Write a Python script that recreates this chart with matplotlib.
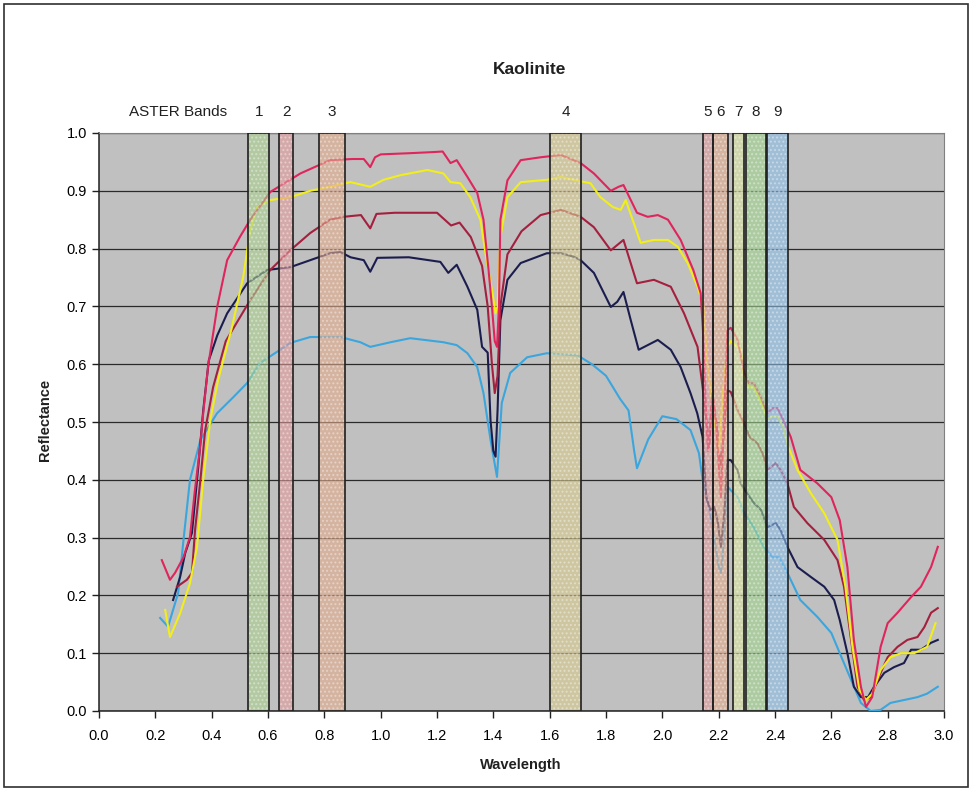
import matplotlib
matplotlib.use("Agg")
import matplotlib.pyplot as plt
from matplotlib.patches import Rectangle
from matplotlib.ticker import MultipleLocator, FormatStrFormatter

plt.rcParams['font.family'] = ['Liberation Sans', 'DejaVu Sans']

# ---------------- data ----------------
pink_x = [0.223,0.252,0.27,0.30,0.323,0.34,0.359,0.37,0.387,0.42,0.455,0.50,0.537,0.608,0.715,0.82,0.90,0.94,0.963,0.98,1.0,1.10,1.187,1.22,1.248,1.27,1.308,1.343,1.365,1.383,1.395,1.405,1.413,1.42,1.425,1.45,1.497,1.568,1.64,1.71,1.757,1.817,1.845,1.862,1.91,1.948,1.984,2.02,2.065,2.11,2.136,2.144,2.152,2.162,2.178,2.19,2.208,2.22,2.231,2.243,2.267,2.29,2.307,2.325,2.35,2.373,2.391,2.409,2.43,2.456,2.49,2.55,2.60,2.63,2.657,2.68,2.705,2.723,2.745,2.775,2.80,2.835,2.883,2.918,2.954,2.978]
pink_y = [0.261,0.227,0.239,0.266,0.301,0.38,0.457,0.515,0.595,0.70,0.78,0.82,0.85,0.898,0.93,0.953,0.955,0.955,0.941,0.958,0.963,0.965,0.967,0.968,0.948,0.953,0.924,0.896,0.85,0.763,0.70,0.64,0.63,0.70,0.85,0.918,0.953,0.958,0.962,0.948,0.93,0.90,0.907,0.91,0.862,0.855,0.858,0.85,0.815,0.763,0.723,0.66,0.55,0.45,0.55,0.50,0.37,0.52,0.659,0.663,0.642,0.587,0.567,0.567,0.543,0.515,0.524,0.524,0.503,0.474,0.417,0.394,0.37,0.33,0.249,0.123,0.042,0.007,0.024,0.111,0.152,0.17,0.197,0.215,0.249,0.284]

yellow_x = [0.235,0.252,0.288,0.323,0.348,0.37,0.395,0.423,0.47,0.512,0.537,0.562,0.608,0.68,0.75,0.82,0.893,0.963,1.01,1.07,1.166,1.223,1.248,1.283,1.318,1.354,1.372,1.397,1.408,1.415,1.425,1.45,1.497,1.59,1.64,1.685,1.745,1.78,1.824,1.852,1.87,1.923,1.97,2.02,2.055,2.09,2.125,2.147,2.16,2.18,2.20,2.215,2.231,2.243,2.278,2.29,2.307,2.325,2.35,2.373,2.391,2.409,2.43,2.445,2.48,2.527,2.575,2.622,2.65,2.675,2.70,2.723,2.745,2.775,2.81,2.847,2.894,2.94,2.97]
yellow_y = [0.175,0.128,0.169,0.221,0.284,0.40,0.503,0.573,0.66,0.751,0.832,0.872,0.884,0.889,0.90,0.907,0.915,0.907,0.919,0.927,0.936,0.93,0.915,0.913,0.889,0.85,0.792,0.723,0.688,0.70,0.82,0.889,0.915,0.919,0.924,0.919,0.913,0.889,0.872,0.867,0.884,0.81,0.815,0.815,0.803,0.775,0.734,0.699,0.60,0.52,0.446,0.55,0.63,0.64,0.625,0.58,0.56,0.56,0.535,0.505,0.51,0.51,0.49,0.46,0.417,0.377,0.342,0.296,0.215,0.111,0.036,0.019,0.03,0.071,0.093,0.10,0.10,0.111,0.152]

maroon_x = [0.277,0.312,0.33,0.341,0.36,0.377,0.405,0.45,0.537,0.608,0.679,0.75,0.82,0.868,0.93,0.963,0.985,1.05,1.2,1.25,1.28,1.32,1.36,1.38,1.395,1.405,1.415,1.425,1.45,1.50,1.568,1.64,1.71,1.757,1.817,1.862,1.91,1.97,2.03,2.077,2.125,2.143,2.166,2.178,2.196,2.208,2.231,2.243,2.267,2.29,2.31,2.338,2.356,2.373,2.403,2.42,2.444,2.467,2.515,2.575,2.622,2.645,2.67,2.693,2.716,2.74,2.775,2.80,2.835,2.87,2.906,2.93,2.954,2.978]
maroon_y = [0.215,0.227,0.239,0.313,0.40,0.486,0.56,0.64,0.711,0.763,0.797,0.827,0.85,0.855,0.858,0.835,0.86,0.862,0.862,0.84,0.845,0.82,0.77,0.70,0.60,0.55,0.58,0.70,0.79,0.83,0.858,0.867,0.855,0.837,0.797,0.815,0.74,0.746,0.734,0.688,0.63,0.56,0.457,0.547,0.481,0.422,0.555,0.552,0.521,0.498,0.474,0.463,0.446,0.417,0.429,0.417,0.394,0.353,0.325,0.296,0.261,0.215,0.123,0.042,0.019,0.024,0.066,0.093,0.111,0.123,0.128,0.145,0.17,0.178]

navy_x = [0.263,0.288,0.306,0.33,0.352,0.37,0.39,0.42,0.455,0.526,0.597,0.68,0.75,0.82,0.857,0.893,0.94,0.963,0.988,1.1,1.212,1.24,1.27,1.308,1.343,1.36,1.38,1.39,1.40,1.408,1.415,1.425,1.45,1.497,1.59,1.64,1.685,1.71,1.757,1.817,1.84,1.862,1.888,1.916,1.984,2.03,2.065,2.10,2.124,2.143,2.156,2.17,2.184,2.196,2.208,2.22,2.231,2.243,2.267,2.278,2.30,2.325,2.35,2.373,2.403,2.42,2.444,2.48,2.527,2.575,2.61,2.63,2.657,2.68,2.705,2.73,2.752,2.788,2.823,2.858,2.883,2.918,2.954,2.978]
navy_y = [0.192,0.232,0.273,0.308,0.42,0.52,0.607,0.65,0.688,0.74,0.763,0.768,0.78,0.792,0.794,0.785,0.78,0.76,0.784,0.785,0.777,0.758,0.772,0.734,0.694,0.63,0.62,0.503,0.45,0.44,0.52,0.676,0.746,0.775,0.792,0.792,0.786,0.78,0.758,0.699,0.708,0.725,0.676,0.625,0.642,0.625,0.595,0.55,0.515,0.474,0.37,0.348,0.353,0.33,0.284,0.342,0.434,0.434,0.417,0.394,0.377,0.36,0.348,0.318,0.325,0.313,0.284,0.249,0.232,0.215,0.192,0.157,0.10,0.042,0.024,0.024,0.042,0.066,0.076,0.083,0.106,0.106,0.118,0.123]

blue_x = [0.217,0.245,0.281,0.30,0.323,0.36,0.419,0.477,0.525,0.572,0.68,0.75,0.857,0.928,0.963,1.035,1.105,1.223,1.27,1.308,1.343,1.365,1.39,1.413,1.43,1.46,1.52,1.59,1.70,1.75,1.80,1.85,1.88,1.90,1.91,1.95,2.0,2.05,2.10,2.13,2.143,2.17,2.20,2.208,2.22,2.231,2.267,2.29,2.325,2.36,2.391,2.415,2.444,2.49,2.55,2.60,2.63,2.67,2.705,2.74,2.775,2.81,2.858,2.906,2.94,2.978]
blue_y = [0.161,0.146,0.204,0.296,0.40,0.469,0.515,0.543,0.567,0.602,0.637,0.647,0.647,0.638,0.63,0.638,0.645,0.638,0.633,0.619,0.595,0.55,0.469,0.405,0.533,0.585,0.612,0.619,0.615,0.60,0.58,0.54,0.52,0.45,0.42,0.47,0.51,0.505,0.486,0.446,0.40,0.342,0.25,0.239,0.30,0.388,0.37,0.342,0.318,0.284,0.266,0.266,0.239,0.192,0.163,0.135,0.10,0.054,0.014,0.0,0.002,0.014,0.019,0.024,0.03,0.042]

band_labels = ['1', '2', '3', '4', '5', '6', '7', '8', '9']
band_lo = [0.530, 0.640, 0.780, 1.600, 2.144, 2.180, 2.250, 2.297, 2.371]
band_hi = [0.604, 0.690, 0.875, 1.713, 2.180, 2.232, 2.290, 2.368, 2.446]
band_colors = ['#a9d08e', '#e39a9a', '#e3ab8c', '#d9cb8c', '#dd9a9a', '#e3ab8c',
               '#dce6a0', '#9fd48c', '#8cbde6']

x_ticks = [0.0, 0.2, 0.4, 0.6, 0.8, 1.0, 1.2, 1.4, 1.6, 1.8, 2.0, 2.2, 2.4, 2.6, 2.8, 3.0]
y_ticks = [0.0, 0.1, 0.2, 0.3, 0.4, 0.5, 0.6, 0.7, 0.8, 0.9, 1.0]

# ---------------- figure ----------------
fig = plt.figure(figsize=(9.74, 7.90), dpi=100)
fig.patch.set_facecolor('white')
ax = fig.add_axes([99/974, 1 - 711/790, (944 - 99)/974, (711 - 133)/790])
ax.set_facecolor('#c0c0c0')

# frame around whole chart
fig.patches.append(Rectangle((4/974, 3/790), 964/974, 783/790, transform=fig.transFigure,
                             fill=False, edgecolor='#303030', linewidth=1.2))

ax.set_xlim(0, 3.0)
ax.set_ylim(0, 1.0)
ax.set_xticks(x_ticks)
ax.set_yticks(y_ticks)
ax.xaxis.set_major_formatter(FormatStrFormatter('%.1f'))
ax.yaxis.set_major_formatter(FormatStrFormatter('%.1f'))
ax.tick_params(axis='both', labelsize=10.5, color='#202020', length=5, width=1, direction='out')
ax.tick_params(axis='x', pad=8)
ax.grid(axis='y', color='#2a2a2a', linewidth=0.9)
ax.set_axisbelow(True)
for s in ['top', 'right']:
    ax.spines[s].set_color('#808080')
for s in ['left', 'bottom']:
    ax.spines[s].set_color('#202020')
    ax.spines[s].set_linewidth(1.1)

lw = 1.5
ax.plot(blue_x, blue_y, color='#3aa6dd', lw=lw, zorder=3)
ax.plot(navy_x, navy_y, color='#1b1d4e', lw=lw, zorder=3)
ax.plot(maroon_x, maroon_y, color='#a4203e', lw=lw, zorder=3)
ax.plot(yellow_x, yellow_y, color='#f2ee1a', lw=lw, zorder=3)
ax.plot(pink_x, pink_y, color='#e0245c', lw=lw, zorder=3)

# ASTER bands
for lo, hi, c, lab in zip(band_lo, band_hi, band_colors, band_labels):
    ax.add_patch(Rectangle((lo, 0), hi - lo, 1.0, facecolor=c, alpha=0.6,
                           edgecolor='none', zorder=4))
    ax.add_patch(Rectangle((lo, 0), hi - lo, 1.0, fill=False, hatch='....',
                           edgecolor=(1, 1, 1, 0.35), linewidth=0, zorder=4.5))
    ax.add_patch(Rectangle((lo, 0), hi - lo, 1.0, fill=False,
                           edgecolor='#202020', linewidth=1.2, zorder=5))
    ax.text((lo + hi) / 2, 1.036, lab, transform=ax.get_xaxis_transform(),
            ha='center', va='center', fontsize=11, color='#202020')

ax.text(0.28, 1.036, 'ASTER Bands', transform=ax.get_xaxis_transform(),
        ha='center', va='center', fontsize=11, color='#202020')

fig.text(530/974, 1 - 70/790, 'Kaolinite', ha='center', va='center',
         fontsize=12.5, fontweight='bold', color='#202020')
fig.text(521/974, 1 - 765/790, 'Wavelength', ha='center', va='center',
         fontsize=10.5, fontweight='bold', color='#202020')
fig.text(45/974, 1 - 420/790, 'Reflectance', ha='center', va='center',
         rotation=90, fontsize=10.5, fontweight='bold', color='#202020')

fig.savefig('out.png', dpi=100)
